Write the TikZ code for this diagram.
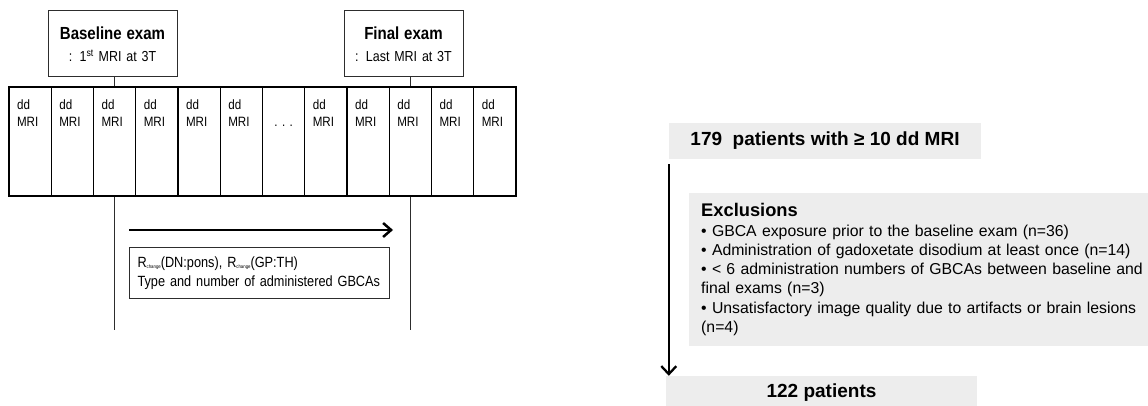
\documentclass[tikz,border=0pt]{standalone}
\usepackage{fontspec}
\setmainfont{Liberation Sans}
\newfontfamily\narrowfont{Liberation Sans}[FakeStretch=0.86]
\usetikzlibrary{arrows.meta, positioning}
\definecolor{boxgray}{RGB}{237,237,237}
\definecolor{linegray}{RGB}{45,45,45}
\tikzset{
  exambox/.style={rectangle, draw=linegray, line width=1pt, minimum width=129pt,
    minimum height=66pt, align=center, inner sep=0pt, text width=125pt,
    font=\narrowfont\fontsize{14.5}{22}\selectfont},
  cell/.style={rectangle, draw=black, line width=1.3pt, minimum width=42.25pt,
    minimum height=109pt},
  celltext/.style={font=\narrowfont\fontsize{13.5}{17}\selectfont, align=left, inner sep=0pt},
  infobox/.style={rectangle, draw=linegray, line width=1pt, minimum width=260pt,
    minimum height=51pt, align=left, inner xsep=8pt, text width=244pt,
    font=\narrowfont\fontsize{14.8}{19}\selectfont},
  graybox/.style={rectangle, fill=boxgray, draw=none},
  timearrow/.style={-{Straight Barb[length=8pt, width=14pt]}, line width=2.5pt},
  flowarrow/.style={-{Straight Barb[length=8pt, width=15pt]}, line width=2.3pt},
  tick/.style={line width=0.9pt, color=linegray},
}
\newcommand{\rchg}{R\raisebox{-1pt}{\fontsize{5}{5}\selectfont change}}

\begin{document}
\begin{tikzpicture}[x=1pt, y=-1pt]
  \useasboundingbox (0,0) rectangle (1148,406);

  % exam boxes
  \node[exambox] (base) at (112.5,44)
    {{\fontsize{17.5}{22}\selectfont\bfseries Baseline exam}\\
     : 1\textsuperscript{st} MRI at 3T};
  \node[exambox, minimum width=119pt, text width=115pt] (fin) at (403.5,44)
    {{\fontsize{17.5}{22}\selectfont\bfseries Final exam}\\
     : Last MRI at 3T};

  % row of dd MRI
  \foreach \i in {1,...,12}
    \node[cell] (c\i) at ({9+42.25*(\i-0.5)},141.5) {};
  \foreach \i in {1,2,3,4,5,6,8,9,10,11,12}
    \node[celltext, anchor=north west] (t\i) at ([shift={(8.5,13)}]c\i.north west) {dd\\MRI};
  \node[celltext] (dots) at ([shift={(0,-16)}]c7.center) {.\hspace{4.5pt}.\hspace{4.5pt}.};

  \draw[tick] (base.south -| c3.north) -- (c3.north);
  \draw[tick] (fin.south -| c10.north) -- (c10.north);
  \coordinate (baseEnd) at (c3.south |- 0,330);
  \coordinate (finEnd) at (c10.south |- 0,330);
  \draw[tick] (c3.south) -- (baseEnd);
  \draw[tick] (c10.south) -- (finEnd);

  % interval between the two exams
  \coordinate (tStart) at (129,230);
  \coordinate (tEnd) at (393,230);
  \draw[timearrow] (tStart) -- (tEnd);
  \node[infobox, anchor=north west] (info) at (129,247)
    {\rchg(DN:pons), \rchg(GP:TH)\\Type and number of administered GBCAs};

  % patient flow
  \node[graybox, minimum width=312pt, minimum height=36pt,
    font=\fontsize{19}{20}\selectfont\bfseries] (n179) at (825,141)
    {179~~patients with ≥ 10 dd MRI};
  \node[graybox, anchor=north west, minimum width=459pt, minimum height=153pt,
    text width=448pt, inner xsep=12pt, align=left,
    font=\fontsize{15.8}{19.3}\selectfont] (excl) at (689,193)
    {{\fontsize{18.3}{20}\selectfont\bfseries Exclusions}\\
     • GBCA exposure prior to the baseline exam (n=36)\\
     • Administration of gadoxetate disodium at least once (n=14)\\
     • < 6 administration numbers of GBCAs between baseline and\\
     final exams (n=3)\\
     • Unsatisfactory image quality due to artifacts or brain lesions\\
     (n=4)};
  \node[graybox, minimum width=311pt, minimum height=34pt,
    font=\fontsize{19}{20}\selectfont\bfseries] (n122) at (821.5,393) {122 patients};
  \draw[flowarrow] ([yshift=-5pt]n179.south west) -- (n179.south west |- n122.north);
\end{tikzpicture}
\end{document}
